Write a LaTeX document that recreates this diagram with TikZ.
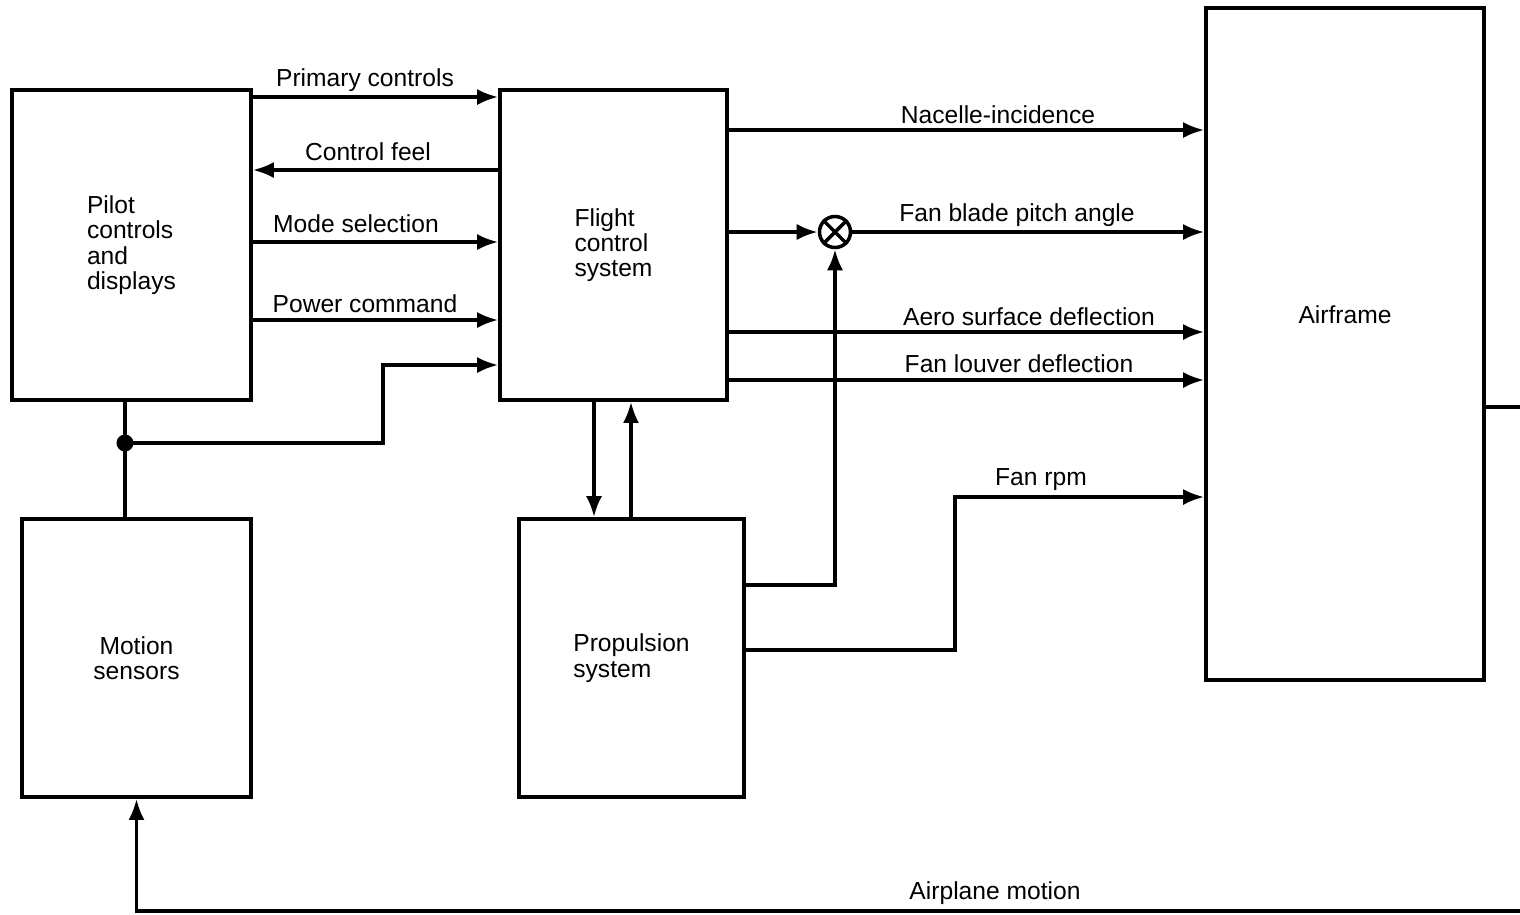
\documentclass[tikz,border=0pt]{standalone}
\usepackage{fontspec}
\setmainfont{Liberation Sans}
\usetikzlibrary{arrows.meta}
\begin{document}
\begin{tikzpicture}[x=0.01cm,y=-0.01cm,
  txt/.style={font=\fontsize{7}{7.2}\selectfont},
  box/.style={draw, line width=1pt, inner sep=0pt, txt},
  lbl/.style={txt, inner sep=0pt},
  wire/.style={line width=1pt},
  conn/.style={wire, -{Latex[length=6pt,width=4.6pt]}}]
\useasboundingbox (0,0) rectangle (1520,914);

% blocks
\node[box, minimum width=2.39cm, minimum height=3.10cm, align=left] (pilot) at (131.5,245) {Pilot\\controls\\and\\displays};
\node[box, minimum width=2.27cm, minimum height=3.10cm, align=left] (fcs) at (613.5,245) {Flight\\control\\system};
\node[box, minimum width=2.29cm, minimum height=2.78cm, align=center] (motion) at (136.5,658) {Motion\\sensors};
\node[box, minimum width=2.25cm, minimum height=2.78cm, align=left] (prop) at (631.5,658) {Propulsion\\system};
\node[box, minimum width=2.78cm, minimum height=6.72cm] (air) at (1345,344) {};
\node[lbl] (airtext) at (1345,315) {Airframe};

% summing junction
\node[draw, circle, line width=1pt, minimum size=0.31cm, inner sep=0pt] (sum) at (835,232) {};
\draw[wire] (sum.north east) -- (sum.south west) (sum.north west) -- (sum.south east);

% branch dot
\node[circle, fill, minimum size=0.17cm, inner sep=0pt] (dot) at (125,443) {};

% pilot <-> fcs
\draw[conn] (pilot.east |- 0,97) -- (fcs.west |- 0,97);
\draw[conn] (fcs.west |- 0,170) -- (pilot.east |- 0,170);
\draw[conn] (pilot.east |- 0,242) -- (fcs.west |- 0,242);
\draw[conn] (pilot.east |- 0,320) -- (fcs.west |- 0,320);
\node[lbl] (lpc) at (365,80) {Primary controls};
\node[lbl] (lcf) at (368,152) {Control feel};
\node[lbl] (lms) at (356,224) {Mode selection};
\node[lbl] (lpw) at (365,304) {Power command};

% motion sensor feedback
\draw[wire] (pilot.south -| dot) -- (dot.center) -- (motion.north -| dot);
\coordinate (k1) at (383,365);
\draw[conn] (dot.center) -| (k1) -- (fcs.west |- k1);

% fcs <-> propulsion
\draw[conn] (fcs.south -| 594,0) -- (prop.north -| 594,0);
\draw[conn] (prop.north -| 631,0) -- (fcs.south -| 631,0);

% fcs -> airframe
\draw[conn] (fcs.east |- 0,130) -- (air.west |- 0,130);
\draw[conn] (fcs.east |- sum) -- (sum);
\draw[conn] (sum) -- (air.west |- sum);
\draw[conn] (fcs.east |- 0,332) -- (air.west |- 0,332);
\draw[conn] (fcs.east |- 0,380) -- (air.west |- 0,380);
\node[lbl] (lni) at (998,115) {Nacelle-incidence};
\node[lbl] (lfb) at (1017,215) {Fan blade pitch angle};
\node[lbl] (las) at (1029,317) {Aero surface deflection};
\node[lbl] (lfl) at (1019,364) {Fan louver deflection};

% propulsion -> sum, airframe
\draw[conn] (prop.east |- 0,585) -| (sum.south);
\coordinate (k2) at (955,497);
\draw[conn] (prop.east |- 0,650) -| (k2) -- (air.west |- k2);
\node[lbl] (lfr) at (1041,480) {Fan rpm};

% airframe output / airplane motion
\coordinate (out) at (1520,407);
\draw[wire] (air.east |- out) -- (out);
\coordinate (ret) at (1520,911);
\draw[conn] (ret) -| (motion.south);
\node[lbl] (lam) at (995,893) {Airplane motion};
\end{tikzpicture}
\end{document}
